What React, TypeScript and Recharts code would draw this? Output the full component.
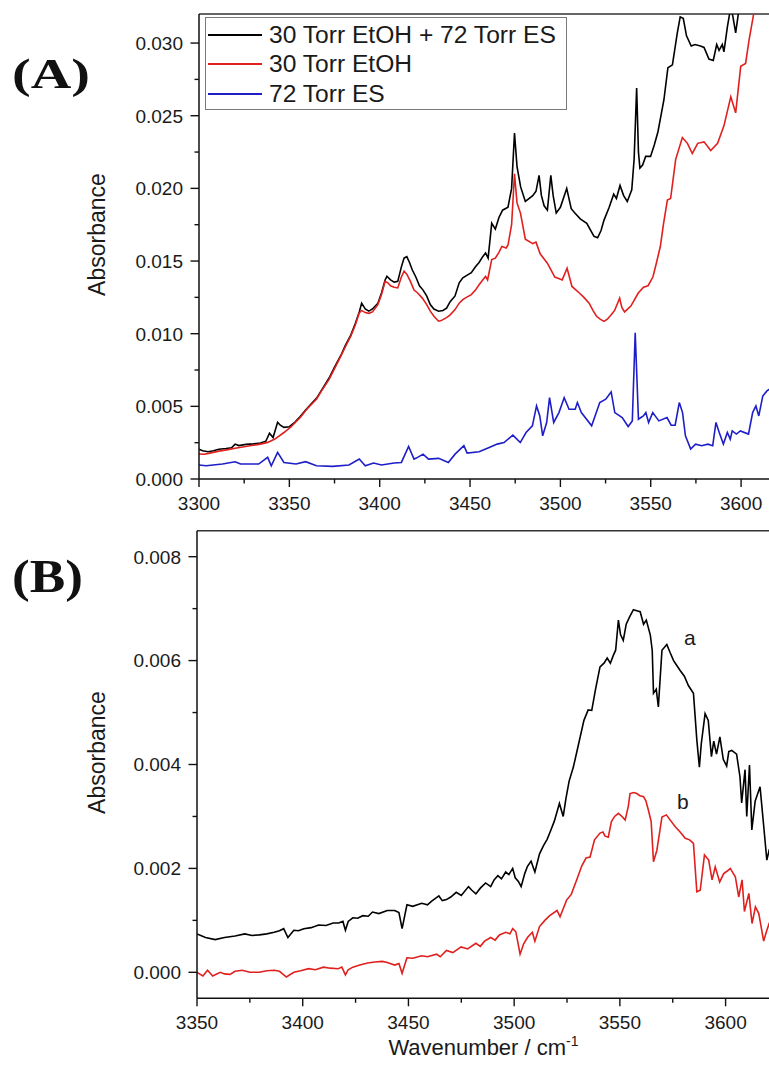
import React from 'react';
import { LineChart, Line, XAxis, YAxis, ReferenceLine, Legend, Label, Customized } from 'recharts';

const FONT = '"Liberation Sans", Arial, Helvetica, sans-serif';
const SERIF = '"Liberation Serif", "Times New Roman", serif';

// ---------- Panel (A) ----------
const seriesNamesA = ['30 Torr EtOH + 72 Torr ES', '30 Torr EtOH', '72 Torr ES'];
const seriesColorsA = ['#000000', '#e0201e', '#1e1ec8'];

// absorbance values in units of 10^-3
const mixWn = [3300, 3302, 3305, 3308, 3311, 3315, 3318, 3320, 3322, 3326, 3330, 3334, 3337, 3339, 3341, 3343.5, 3345, 3347, 3350, 3353, 3356, 3359, 3362, 3365, 3368, 3372, 3375, 3378.5, 3381, 3384, 3386.5, 3388.7, 3390, 3392, 3394, 3396, 3399, 3401, 3403, 3404, 3406, 3408, 3410, 3412, 3413.5, 3415, 3416.5, 3418, 3420, 3422, 3424, 3426, 3428, 3430, 3432.6, 3435, 3437, 3439, 3441.7, 3444, 3446, 3448, 3450.7, 3453, 3455, 3457, 3458.6, 3460, 3462, 3464, 3466, 3468, 3471, 3473, 3474.6, 3476, 3478, 3480.6, 3484.7, 3486.5, 3488.2, 3489.5, 3491, 3492.8, 3494.7, 3496, 3497.7, 3500, 3503.5, 3506, 3508, 3511, 3514.6, 3518.6, 3520.6, 3522.5, 3524.1, 3527, 3529.5, 3531, 3533, 3535, 3537, 3539.5, 3540.8, 3542.2, 3543.2, 3544, 3545.5, 3547.2, 3549.9, 3552, 3554, 3557.3, 3559.5, 3562, 3564.7, 3566.3, 3568, 3569.8, 3572.4, 3574.5, 3577.5, 3579.5, 3582.2, 3584.6, 3586.5, 3587.8, 3589.6, 3590.5, 3592.4, 3594.3, 3595.5, 3597, 3598.8, 3601, 3608, 3616];
const mixAbs = [2.05, 1.95, 1.88, 1.95, 2.05, 2.1, 2.15, 2.4, 2.3, 2.38, 2.42, 2.48, 2.6, 3.15, 2.85, 3.9, 3.7, 3.55, 3.6, 3.9, 4.3, 4.75, 5.15, 5.55, 6.15, 6.95, 7.7, 8.5, 9.2, 9.9, 10.7, 11.5, 12.1, 11.7, 11.55, 11.7, 12.1, 12.8, 13.7, 13.95, 13.7, 13.55, 13.6, 14.6, 15.2, 15.3, 14.9, 14.4, 13.9, 13.3, 13.0, 12.6, 12.0, 11.7, 11.55, 11.6, 11.75, 12.2, 12.6, 13.5, 13.85, 14.0, 14.2, 14.6, 14.9, 15.3, 15.55, 15.2, 17.6, 17.2, 18.0, 18.5, 18.7, 20.0, 23.8, 21.5, 20.1, 19.1, 19.5, 19.8, 20.9, 19.5, 18.8, 18.5, 20.9, 19.5, 18.3, 18.7, 20.0, 18.6, 18.3, 17.9, 17.6, 16.7, 16.6, 17.1, 17.8, 18.7, 19.6, 19.3, 20.2, 19.5, 19.1, 19.9, 22.0, 26.9, 22.5, 21.4, 21.6, 22.2, 22.2, 23.0, 23.9, 26.1, 28.3, 28.5, 30.7, 31.8, 31.7, 30.5, 29.8, 29.9, 29.8, 29.7, 28.9, 28.8, 29.9, 29.5, 29.9, 29.4, 31.1, 32.5, 31.8, 30.7, 32.3, 33.5, 36, 38];

const etohWn = [3300, 3303, 3306, 3311, 3316, 3320, 3325, 3329, 3334, 3338, 3342, 3347, 3351, 3356, 3360, 3365, 3368, 3372, 3375, 3378.5, 3381, 3384, 3386.5, 3388.7, 3390, 3392, 3394, 3396, 3399, 3401, 3403, 3404.5, 3406, 3408, 3410, 3412, 3413.5, 3415, 3417, 3419, 3421, 3423.6, 3426, 3428, 3430, 3432.6, 3434, 3437, 3439, 3441.7, 3444, 3446, 3448, 3450.7, 3453, 3455, 3457, 3458.6, 3459.7, 3462, 3464, 3466, 3467.6, 3470, 3471, 3473, 3474.6, 3476, 3477.9, 3480.6, 3484.7, 3486.5, 3488.8, 3492.8, 3496.9, 3499, 3501, 3503.7, 3506.4, 3510.5, 3513, 3515.9, 3518, 3520, 3522, 3524.1, 3526, 3528.1, 3530, 3532.8, 3534, 3535.5, 3539, 3543.1, 3546, 3548.5, 3551.2, 3553, 3555.3, 3557, 3559.2, 3561, 3563.8, 3567.5, 3570.3, 3573, 3576, 3579.5, 3583.2, 3587, 3590.5, 3594.3, 3597, 3599.8, 3602.5, 3604.4, 3607.1, 3610, 3616];
const etohAbs = [1.72, 1.7, 1.78, 1.92, 2.02, 2.12, 2.22, 2.3, 2.4, 2.52, 2.75, 3.2, 3.6, 4.23, 4.85, 5.49, 6.1, 6.86, 7.6, 8.46, 9.1, 9.83, 10.6, 11.43, 11.6, 11.45, 11.4, 11.5, 12.0, 12.7, 13.6, 13.5, 13.3, 13.2, 13.15, 13.9, 14.3, 14.1, 13.6, 13.0, 12.8, 12.45, 12.0, 11.55, 11.2, 10.86, 10.9, 11.1, 11.3, 11.66, 12.1, 12.34, 12.5, 12.69, 13.0, 13.37, 13.7, 13.94, 13.7, 15.1, 15.2, 15.6, 16.0, 15.9, 16.1, 17.5, 21.0, 19.0, 18.3, 16.5, 16.2, 16.3, 15.5, 14.85, 13.9, 13.8, 13.7, 14.5, 13.25, 12.8, 12.5, 12.1, 11.6, 11.2, 11.0, 10.85, 11.0, 11.3, 11.6, 12.45, 11.8, 11.5, 11.9, 12.8, 13.2, 13.3, 13.9, 14.8, 16.0, 17.5, 19.2, 19.3, 22.0, 23.5, 23.1, 22.4, 23.1, 23.2, 22.6, 23.1, 24.3, 26.3, 25.2, 28.4, 28.6, 30.2, 32.1, 33.5, 36];

const esWn = [3300, 3304, 3313, 3320, 3323, 3333, 3338, 3340, 3343.5, 3347, 3353.7, 3359, 3365, 3374, 3383, 3388.7, 3392, 3396.6, 3401, 3408, 3412, 3416, 3419, 3421, 3424, 3427, 3432.6, 3438, 3441.7, 3446.6, 3448.4, 3455, 3460.6, 3465, 3468.8, 3473.7, 3477.8, 3481, 3484.5, 3486.8, 3488.6, 3490.2, 3492.4, 3494, 3496.3, 3499.2, 3502.1, 3504.8, 3508.2, 3509.4, 3511.6, 3517.3, 3521.8, 3525.1, 3528.1, 3530.1, 3534.2, 3537.5, 3539.8, 3541.4, 3543.2, 3545.9, 3547.3, 3548.8, 3551.1, 3554.5, 3559, 3561.3, 3563.5, 3565.8, 3567.6, 3569.2, 3572.1, 3574.8, 3578.2, 3581.6, 3584.3, 3586.1, 3587.9, 3590.2, 3592.4, 3594, 3595.1, 3597.4, 3599.6, 3604.1, 3606.4, 3608.2, 3609.8, 3612, 3614.3, 3616];
const esAbs = [0.96, 0.91, 1.03, 1.19, 1.03, 1.03, 1.49, 0.91, 1.83, 1.14, 1.03, 1.19, 0.91, 0.87, 0.96, 1.37, 0.91, 1.1, 0.96, 1.1, 1.14, 2.24, 1.37, 1.49, 1.71, 1.37, 1.42, 1.14, 1.71, 2.29, 1.78, 1.87, 2.17, 2.4, 2.51, 3.02, 2.51, 3.2, 3.66, 5.03, 4.34, 2.97, 3.89, 5.6, 3.89, 4.57, 5.6, 4.8, 4.8, 5.26, 4.57, 3.66, 5.26, 5.49, 5.99, 4.57, 4.23, 3.61, 4.0, 10.06, 4.11, 4.34, 4.57, 3.89, 4.57, 4.0, 4.23, 3.7, 3.7, 5.26, 4.57, 2.97, 2.06, 2.4, 2.29, 2.4, 2.29, 3.89, 3.2, 2.4, 3.2, 2.74, 3.31, 3.09, 3.31, 3.09, 4.57, 5.03, 4.34, 5.71, 6.06, 6.2];

const topXMajor = [3300, 3350, 3400, 3450, 3500, 3550, 3600];
const topXMinor = [3325, 3375, 3425, 3475, 3525, 3575];
const topYMajor = [0, 0.005, 0.01, 0.015, 0.02, 0.025, 0.03];
const topYMinor = [0.0025, 0.0075, 0.0125, 0.0175, 0.0225, 0.0275];

// ---------- Panel (B) ----------
const curveLabelsB = ['a', 'b'];
const aWn = [3350, 3354, 3358.6, 3363, 3368, 3372.6, 3376, 3379.5, 3383, 3386.5, 3389, 3391, 3393, 3395.8, 3398, 3400.5, 3404, 3407.5, 3411, 3414.4, 3417, 3419, 3420.2, 3421.5, 3423.7, 3426, 3428.4, 3431, 3433, 3436, 3440, 3443.5, 3445.5, 3447, 3448.3, 3449.3, 3452, 3456.3, 3459, 3461, 3464.4, 3466, 3468, 3470, 3472.6, 3475, 3478.4, 3480, 3481.9, 3484, 3486.5, 3488.9, 3490.5, 3492.3, 3494, 3496, 3497.5, 3499.3, 3500.5, 3502, 3503.3, 3505, 3506.3, 3508, 3509.8, 3512, 3514, 3515.6, 3517, 3519, 3521.4, 3523.2, 3524.5, 3526, 3528, 3530.5, 3533, 3535, 3536.7, 3538.5, 3540.6, 3542.5, 3544, 3545.5, 3546.9, 3548, 3549.3, 3550.3, 3551.6, 3553, 3554.6, 3556.4, 3558, 3559.6, 3561.2, 3562.5, 3564.4, 3565.3, 3565.9, 3567.2, 3568.2, 3569.9, 3572.2, 3573.8, 3575.4, 3577, 3578.5, 3580.5, 3582.4, 3584.8, 3586.4, 3587.6, 3588.5, 3590.3, 3591.8, 3593.3, 3594.4, 3595.7, 3597.3, 3598.9, 3600.5, 3601.5, 3602.9, 3605.2, 3606.8, 3607.6, 3609.2, 3610, 3611.3, 3612.4, 3614, 3616.3, 3617.9, 3619.5, 3620.6, 3622];
const aAbs = [0.74, 0.67, 0.63, 0.67, 0.7, 0.74, 0.71, 0.72, 0.74, 0.77, 0.8, 0.84, 0.67, 0.81, 0.8, 0.84, 0.86, 0.91, 0.9, 0.95, 0.95, 0.98, 0.81, 0.98, 1.05, 1.04, 1.09, 1.08, 1.16, 1.13, 1.19, 1.19, 1.15, 0.84, 1.1, 1.3, 1.27, 1.33, 1.3, 1.37, 1.47, 1.38, 1.4, 1.45, 1.54, 1.48, 1.65, 1.58, 1.51, 1.62, 1.72, 1.65, 1.78, 1.86, 1.8, 1.93, 1.88, 2.0, 1.82, 1.75, 1.65, 1.9, 2.04, 2.14, 1.93, 2.28, 2.45, 2.56, 2.7, 2.91, 3.25, 3.0, 3.35, 3.68, 3.95, 4.4, 4.85, 5.05, 5.04, 5.45, 5.88, 5.95, 6.05, 5.95, 6.1, 6.2, 6.78, 6.5, 6.39, 6.7, 6.84, 6.98, 6.96, 6.94, 6.7, 6.78, 6.49, 6.2, 5.37, 5.45, 5.11, 6.2, 6.31, 6.15, 6.0, 5.9, 5.81, 5.7, 5.52, 5.37, 4.47, 3.95, 4.4, 4.98, 4.85, 4.15, 4.45, 4.2, 4.53, 4.1, 3.97, 4.25, 4.27, 4.2, 3.76, 3.26, 3.9, 3.0, 3.99, 2.74, 3.3, 3.57, 2.87, 2.16, 2.35, 2.3];

const bWn = [3350, 3352.8, 3355, 3357.4, 3361, 3363, 3365.6, 3368, 3371.4, 3375, 3379.5, 3383, 3386.5, 3389, 3392.3, 3395.8, 3399, 3402.8, 3406, 3409.8, 3413, 3416.8, 3418.5, 3420.2, 3421.5, 3423.7, 3427, 3430.7, 3434, 3437.7, 3440, 3443.5, 3445.5, 3447, 3448.3, 3449.3, 3452, 3456.3, 3459, 3463.3, 3465, 3468, 3471, 3474.9, 3478, 3481.9, 3484, 3486, 3488.9, 3491, 3493, 3496, 3498, 3499.3, 3500.8, 3502.8, 3504.5, 3506.3, 3508.6, 3509.8, 3512, 3514.5, 3516.8, 3520.3, 3521.7, 3524.8, 3527, 3529.6, 3532, 3534, 3535.9, 3538, 3540.6, 3542, 3543, 3544.5, 3546, 3547.5, 3549.3, 3551, 3552.5, 3554, 3554.8, 3556.5, 3558, 3559.5, 3561.2, 3562.3, 3563.5, 3564.8, 3565.9, 3567.5, 3569.9, 3572, 3574, 3576.2, 3578.5, 3580.9, 3583, 3584.8, 3586.4, 3588, 3590, 3592, 3593.6, 3595.1, 3597.2, 3599.1, 3600.8, 3602.2, 3604.6, 3606.2, 3607.8, 3608.9, 3611, 3612.5, 3614.1, 3615.7, 3618, 3619.5, 3620.6, 3622];
const bAbs = [0.0, -0.07, 0.04, -0.07, 0.0, -0.03, -0.04, 0.02, 0.04, 0.0, 0.0, 0.03, 0.04, 0.02, -0.09, 0.0, 0.03, 0.07, 0.05, 0.1, 0.08, 0.07, 0.1, -0.05, 0.05, 0.1, 0.14, 0.18, 0.2, 0.21, 0.19, 0.14, 0.17, -0.02, 0.15, 0.28, 0.27, 0.32, 0.3, 0.35, 0.3, 0.42, 0.38, 0.49, 0.45, 0.56, 0.5, 0.6, 0.67, 0.62, 0.72, 0.77, 0.74, 0.84, 0.78, 0.35, 0.55, 0.67, 0.77, 0.6, 0.88, 1.0, 1.09, 1.19, 1.07, 1.39, 1.5, 1.78, 2.05, 2.2, 2.22, 2.55, 2.68, 2.7, 2.62, 2.6, 2.9, 3.0, 3.06, 3.0, 2.93, 3.2, 3.44, 3.46, 3.44, 3.4, 3.38, 3.3, 3.12, 2.9, 2.13, 2.35, 2.99, 3.03, 2.92, 2.8, 2.7, 2.58, 2.55, 2.48, 1.55, 1.58, 2.26, 2.16, 1.78, 2.03, 1.74, 1.9, 1.95, 2.0, 1.84, 1.45, 1.78, 1.17, 1.52, 0.94, 1.26, 1.13, 0.6, 0.81, 0.94, 0.9];

const botXMajor = [3350, 3400, 3450, 3500, 3550, 3600];
const botXMinor = [3375, 3425, 3475, 3525, 3575];
const botYMajor = [0, 0.002, 0.004, 0.006, 0.008];
const botYMinor = [0.001, 0.003, 0.005, 0.007];

const toData = (wn: number[], milli: number[]) => wn.map((w, i) => ({ wn: w, abs: milli[i] / 1000 }));

const mixData = toData(mixWn, mixAbs);
const etohData = toData(etohWn, etohAbs);
const esData = toData(esWn, esAbs);
const aData = toData(aWn, aAbs);
const bData = toData(bWn, bAbs);

const AXIS_COLOR = '#111';
const TEXT_COLOR = '#1a1a1a';

const makeXTick = (major: number[]) => (props: any) => {
  const { x, y, payload } = props;
  const isMajor = major.includes(payload.value);
  return (
    <g>
      <line x1={x} x2={x} y1={y} y2={y + (isMajor ? 8 : 4.5)} stroke={AXIS_COLOR} strokeWidth={1.4} />
      {isMajor && (
        <text x={x} y={y + 31} textAnchor="middle" fontSize={19} fontFamily={FONT} fill={TEXT_COLOR}>
          {payload.value}
        </text>
      )}
    </g>
  );
};

const makeYTick = (major: number[]) => (props: any) => {
  const { x, y, payload } = props;
  const isMajor = major.includes(payload.value);
  return (
    <g>
      <line x1={x} x2={x - (isMajor ? 8.5 : 4.5)} y1={y} y2={y} stroke={AXIS_COLOR} strokeWidth={1.4} />
      {isMajor && (
        <text x={x - 16} y={y} dy="0.36em" textAnchor="end" fontSize={19} fontFamily={FONT} fill={TEXT_COLOR}>
          {payload.value.toFixed(3)}
        </text>
      )}
    </g>
  );
};

const YTitle = (props: any) => {
  const vb = props.viewBox || {};
  const cx = vb.x + 105;
  const cy = vb.y + vb.height / 2 - 12;
  return (
    <text x={cx} y={cy} transform={`rotate(-90 ${cx} ${cy})`} textAnchor="middle" fontSize={23} fontFamily={FONT} fill={TEXT_COLOR}>
      Absorbance
    </text>
  );
};

const XTitle = (props: any) => {
  const vb = props.viewBox || {};
  const cx = vb.x + vb.width / 2;
  const cy = vb.y + 57;
  return (
    <text x={cx} y={cy} textAnchor="middle" fontSize={22} fontFamily={FONT} fill={TEXT_COLOR}>
      Wavenumber / cm<tspan dy={-9} fontSize={14}>-1</tspan>
    </text>
  );
};

const LegendBox = () => (
  <div
    style={{
      position: 'relative',
      width: 362,
      height: 93,
      border: '1px solid #7a7a7a',
      boxSizing: 'border-box',
      background: '#fff',
      fontFamily: FONT,
      fontSize: 24.6,
      color: TEXT_COLOR,
    }}
  >
    {seriesNamesA.map((name, i) => (
      <div key={name} style={{ position: 'absolute', left: 0, top: 1.6 + i * 29.7, height: 30, width: 360 }}>
        <svg width={58} height={30} style={{ position: 'absolute', left: 0, top: 0 }}>
          <line x1={2} x2={56} y1={15} y2={15} stroke={seriesColorsA[i]} strokeWidth={2} />
        </svg>
        <div style={{ position: 'absolute', left: 63, top: 0, lineHeight: '30px', whiteSpace: 'nowrap' }}>{name}</div>
      </div>
    ))}
  </div>
);

const PanelTag = ({ text, x, y, size, len }: { text: string; x: number; y: number; size: number; len: number }) => (
  <text x={x} y={y} fontFamily={SERIF} fontWeight="bold" fontSize={size} textLength={len} lengthAdjust="spacingAndGlyphs" fill="#111">
    {text}
  </text>
);

export default function App() {
  return (
    <div style={{ position: 'absolute', left: 0, top: 0, width: 769, height: 1072, overflow: 'hidden', background: '#fff' }}>
      <div style={{ position: 'absolute', left: 0, top: 0 }}>
        <LineChart width={770} height={520} margin={{ top: 14, right: 0, bottom: 0, left: 0 }}>
          <XAxis
            dataKey="wn"
            type="number"
            domain={[3300, 3616]}
            allowDataOverflow
            ticks={[...topXMajor, ...topXMinor].sort((a, b) => a - b)}
            interval={0}
            height={41}
            tickSize={0}
            tickMargin={0}
            tickLine={false}
            axisLine={{ stroke: AXIS_COLOR, strokeWidth: 1.5 }}
            tick={makeXTick(topXMajor)}
          />
          <YAxis
            type="number"
            domain={[0, 0.032]}
            allowDataOverflow
            ticks={[...topYMajor, ...topYMinor].sort((a, b) => a - b)}
            interval={0}
            width={199}
            tickSize={0}
            tickMargin={0}
            tickLine={false}
            axisLine={{ stroke: AXIS_COLOR, strokeWidth: 1.5 }}
            tick={makeYTick(topYMajor)}
          >
            <Label content={<YTitle />} />
          </YAxis>
          <ReferenceLine y={0.032} stroke="#333" strokeWidth={1.5} />
          <Line data={mixData} dataKey="abs" name={seriesNamesA[0]} stroke={seriesColorsA[0]} strokeWidth={1.6} dot={false} isAnimationActive={false} />
          <Line data={etohData} dataKey="abs" name={seriesNamesA[1]} stroke={seriesColorsA[1]} strokeWidth={1.6} dot={false} isAnimationActive={false} />
          <Line data={esData} dataKey="abs" name={seriesNamesA[2]} stroke={seriesColorsA[2]} strokeWidth={1.6} dot={false} isAnimationActive={false} />
          <Legend
            layout="vertical"
            align="center"
            verticalAlign="middle"
            content={<LegendBox />}
            wrapperStyle={{ position: 'absolute', left: 205, top: 17, width: 362 }}
          />
          <Customized component={() => <PanelTag text="(A)" x={12} y={88} size={42} len={78} />} />
        </LineChart>
      </div>
      <div style={{ position: 'absolute', left: 0, top: 520 }}>
        <LineChart width={770} height={552} margin={{ top: 10.7, right: 0, bottom: 0, left: 0 }}>
          <XAxis
            dataKey="wn"
            type="number"
            domain={[3350, 3621]}
            allowDataOverflow
            ticks={[...botXMajor, ...botXMinor].sort((a, b) => a - b)}
            interval={0}
            height={73.7}
            tickSize={0}
            tickMargin={0}
            tickLine={false}
            axisLine={{ stroke: AXIS_COLOR, strokeWidth: 1.5 }}
            tick={makeXTick(botXMajor)}
          >
            <Label content={<XTitle />} />
          </XAxis>
          <YAxis
            type="number"
            domain={[-0.0005, 0.0085]}
            allowDataOverflow
            ticks={[...botYMajor, ...botYMinor].sort((a, b) => a - b)}
            interval={0}
            width={197}
            tickSize={0}
            tickMargin={0}
            tickLine={false}
            axisLine={{ stroke: AXIS_COLOR, strokeWidth: 1.5 }}
            tick={makeYTick(botYMajor)}
          >
            <Label content={<YTitle />} />
          </YAxis>
          <ReferenceLine y={0.0085} stroke="#333" strokeWidth={1.5} />
          <Line data={aData} dataKey="abs" name={curveLabelsB[0]} stroke="#000000" strokeWidth={1.6} dot={false} isAnimationActive={false} />
          <Line data={bData} dataKey="abs" name={curveLabelsB[1]} stroke="#e0201e" strokeWidth={1.6} dot={false} isAnimationActive={false} />
          <Customized
            component={() => (
              <g>
                <PanelTag text="(B)" x={12} y={71.7} size={46} len={71} />
                <text x={684} y={125} fontSize={21} fontFamily={FONT} fill={TEXT_COLOR}>{curveLabelsB[0]}</text>
                <text x={677} y={289} fontSize={21} fontFamily={FONT} fill={TEXT_COLOR}>{curveLabelsB[1]}</text>
              </g>
            )}
          />
        </LineChart>
      </div>
    </div>
  );
}
